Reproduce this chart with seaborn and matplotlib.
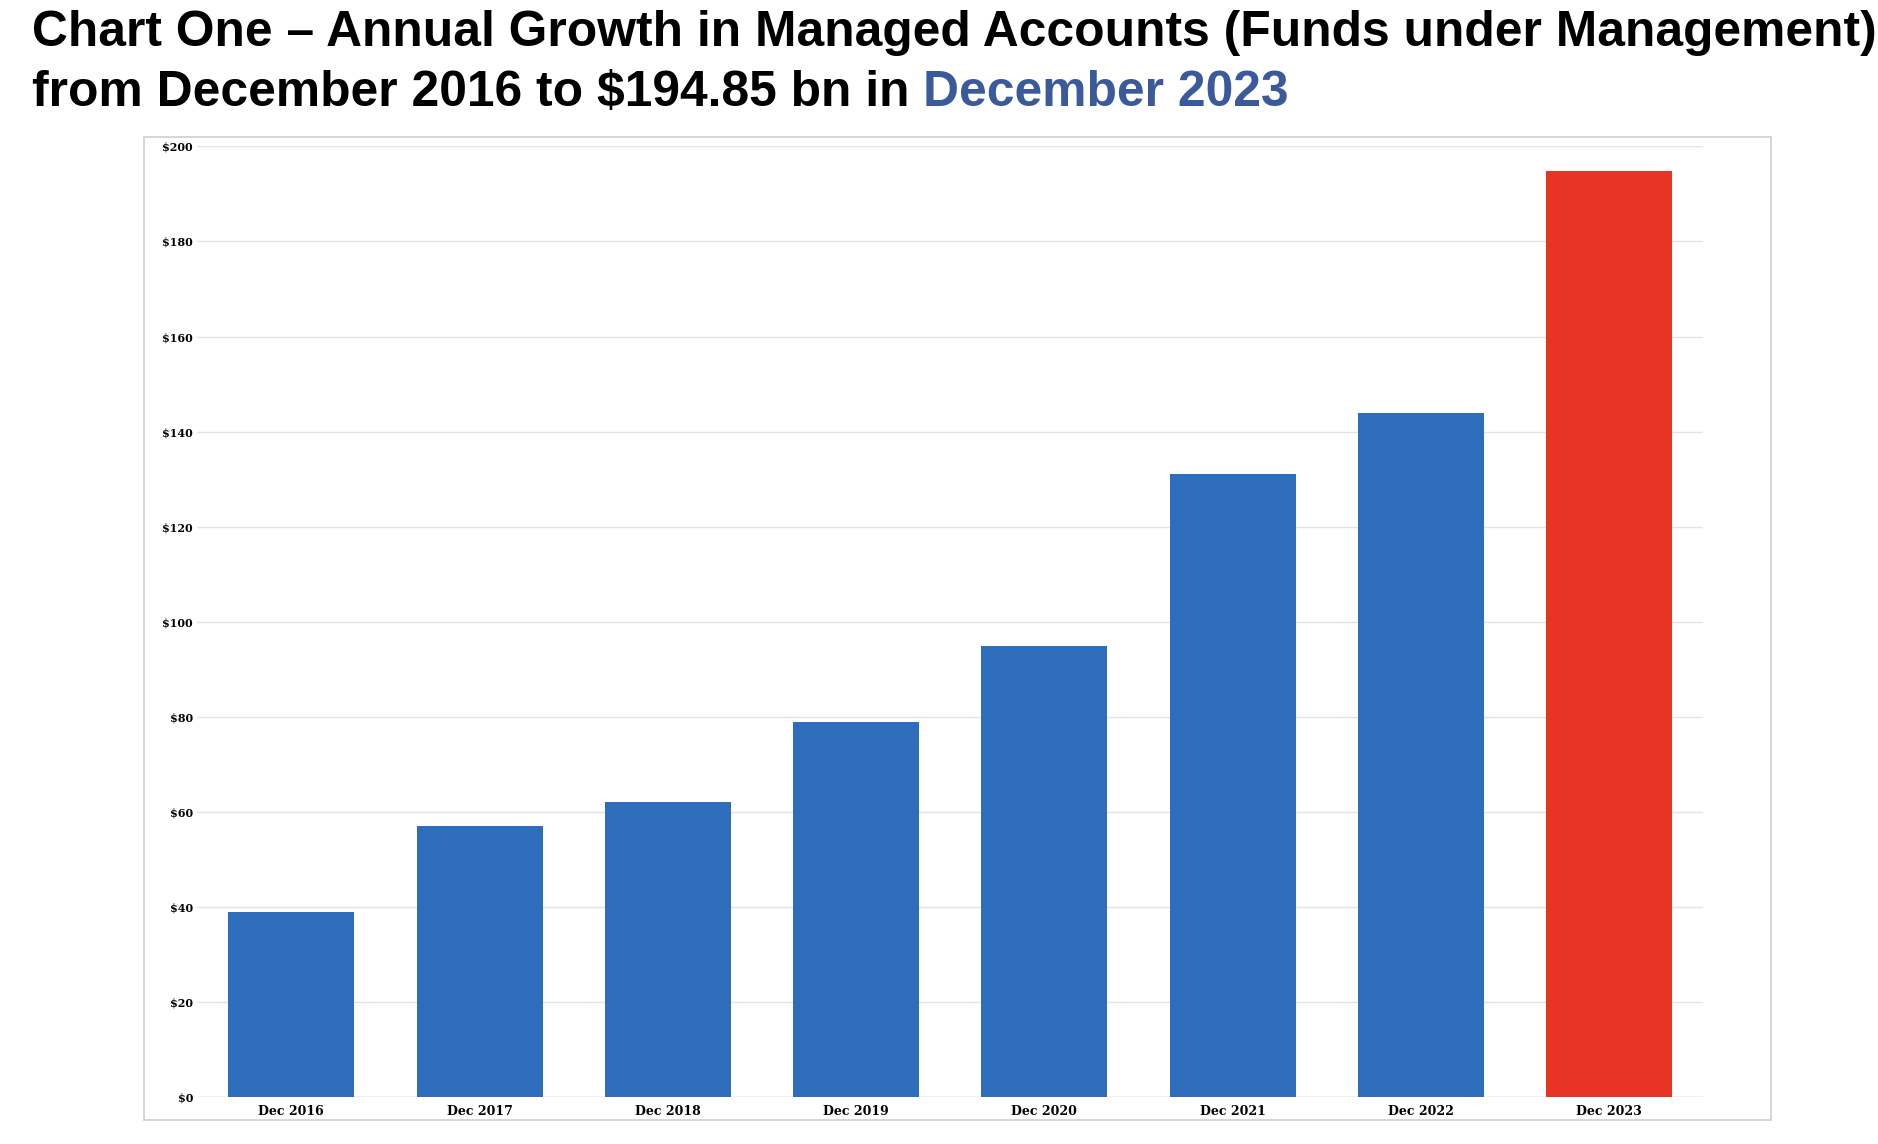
import matplotlib
matplotlib.use("Agg")
import matplotlib.pyplot as plt
import seaborn as sns
import pandas as pd
from matplotlib.patches import Rectangle

categories = ["Dec 2016", "Dec 2017", "Dec 2018", "Dec 2019", "Dec 2020", "Dec 2021", "Dec 2022", "Dec 2023"]
values = [39, 57, 62, 79, 95, 131, 144, 194.85]
colors = ["#2E6DBC"] * 7 + ["#E83424"]
yticks = list(range(0, 201, 20))

df = pd.DataFrame({"cat": categories, "val": values})
fig = plt.figure(figsize=(18.78, 11.44), dpi=100)
fig.patches.append(Rectangle((0.0765, 0.021), 0.8665, 0.859, transform=fig.transFigure,
                             fill=False, edgecolor="#D0D0D0", lw=1.2))
ax = fig.add_axes([0.105, 0.041, 0.802, 0.831])
sns.barplot(data=df, x="cat", y="val", hue="cat", palette=colors, legend=False,
            width=0.67, ax=ax, saturation=1, zorder=3)
ax.set_ylim(0, 200)
ax.set_yticks(yticks)
ax.set_yticklabels([f"${t}" for t in yticks], fontsize=8, fontweight="bold", family="DejaVu Serif")
for l in ax.get_xticklabels():
    l.set_fontsize(9); l.set_fontweight("bold"); l.set_family("DejaVu Serif")
ax.set_xlabel(""); ax.set_ylabel("")
ax.grid(axis="y", color="#E4E4E4", lw=1, zorder=0)
for s in ax.spines.values():
    s.set_visible(False)
ax.tick_params(axis="y", length=0, pad=3)
ax.tick_params(axis="x", length=0, pad=6)
ax.axhline(0, color="#D0D0D0", lw=1, zorder=2)

fs = 35.8
fig.text(0.017, 0.971, "Chart One – Annual Growth in Managed Accounts (Funds under Management)",
         fontsize=fs, fontweight="bold", family="Liberation Sans", va="center")
t2 = fig.text(0.017, 0.919, "from December 2016 to $194.85 bn in ",
              fontsize=fs, fontweight="bold", family="Liberation Sans", va="center")
fig.canvas.draw()
bb = t2.get_window_extent(fig.canvas.get_renderer())
x2 = bb.x1 / fig.bbox.width
fig.text(x2, 0.919, "December 2023", fontsize=fs, fontweight="bold",
         family="Liberation Sans", va="center", color="#3A5A9A")
fig.savefig("out.png", dpi=100)
